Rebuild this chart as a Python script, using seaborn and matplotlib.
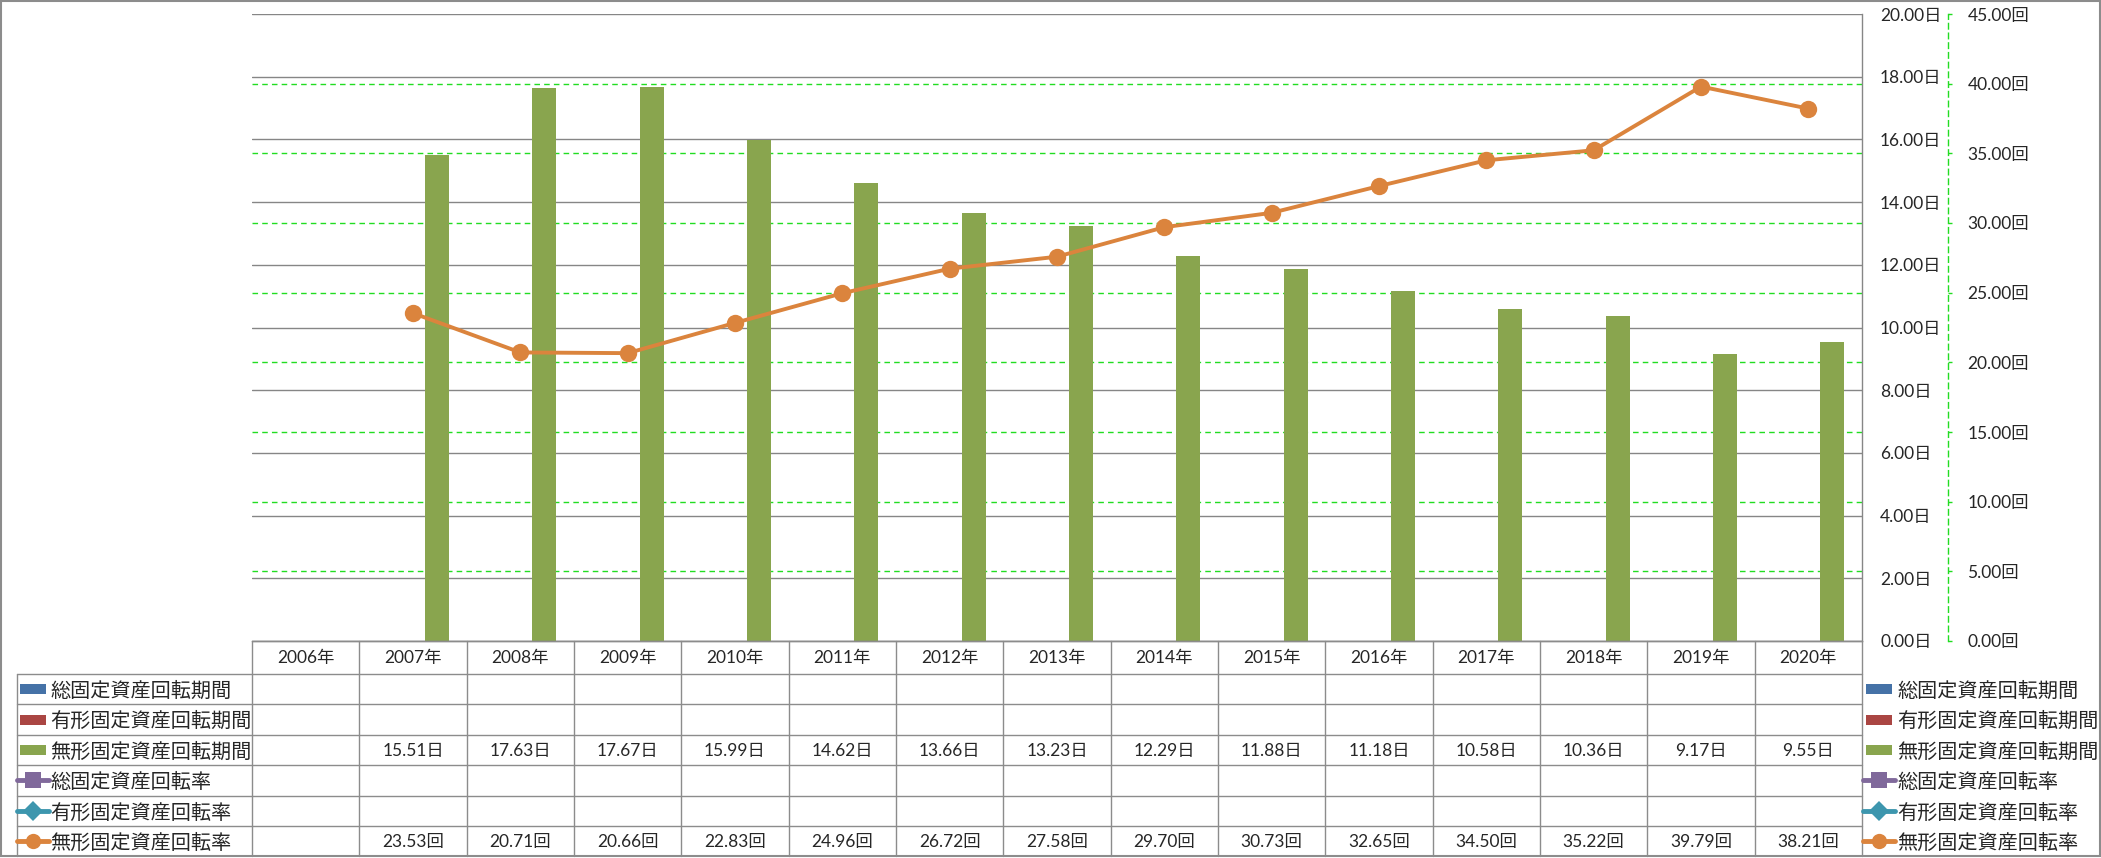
import numpy as np
import pandas as pd
import matplotlib
matplotlib.use("Agg")
import matplotlib.pyplot as plt
import matplotlib.transforms as mtransforms
import seaborn as sns
from matplotlib.lines import Line2D
from matplotlib.patches import Rectangle

# data
years = ["2006年", "2007年", "2008年", "2009年", "2010年", "2011年", "2012年", "2013年",
         "2014年", "2015年", "2016年", "2017年", "2018年", "2019年", "2020年"]
intangible_period = [np.nan, 15.51, 17.63, 17.67, 15.99, 14.62, 13.66, 13.23,
                     12.29, 11.88, 11.18, 10.58, 10.36, 9.17, 9.55]
intangible_turnover = [np.nan, 23.53, 20.71, 20.66, 22.83, 24.96, 26.72, 27.58,
                       29.70, 30.73, 32.65, 34.50, 35.22, 39.79, 38.21]
series_names = ["総固定資産回転期間", "有形固定資産回転期間", "無形固定資産回転期間",
                "総固定資産回転率", "有形固定資産回転率", "無形固定資産回転率"]
series_colors = ["#4572A7", "#AA4643", "#89A54E", "#80699B", "#3D96AE", "#DB843D"]
series_markers = [None, None, None, "s", "D", "o"]

sns.set_style("white")
plt.rcParams["font.family"] = ["Lato", "Noto Sans CJK JP", "DejaVu Sans"]

W, H = 2101, 858
fig = plt.figure(figsize=(W / 100, H / 100), dpi=100)

# plot area in pixels
px_l, px_r, px_t, px_b = 252, 1862, 14, 641
ax = fig.add_axes([px_l / W, 1 - px_b / H, (px_r - px_l) / W, (px_b - px_t) / H])

# long table for the three period series (only the intangible one has values)
rows = []
for k in range(3):
    for i, y in enumerate(years):
        v = intangible_period[i] if k == 2 else 0.0
        rows.append({"year": y, "series": series_names[k], "value": 0.0 if np.isnan(v) else v})
bars = pd.DataFrame(rows)

sns.barplot(data=bars, x="year", y="value", hue="series", hue_order=series_names[:3],
            palette=series_colors[:3], width=0.67, gap=0, linewidth=0, saturation=1,
            legend=False, ax=ax)
ax.set_xlim(-0.5, len(years) - 0.5)
ax.set_ylim(0, 20)
ax.set_xticks([])
ax.set_xlabel("")
ax.set_ylabel("")
ax.yaxis.grid(True, color="#868686", linewidth=1.0)
ax.set_axisbelow(True)
for s in ["left", "top"]:
    ax.spines[s].set_visible(False)
ax.spines["right"].set_color("#868686")
ax.spines["bottom"].set_color("#868686")
ax.spines["right"].set_linewidth(1.0)
ax.spines["bottom"].set_linewidth(1.0)

# secondary axis: turnover
ax2 = ax.twinx()
ax2.spines["right"].set_position(("axes", (1948 - px_l) / (px_r - px_l)))
line_df = pd.DataFrame({"pos": np.arange(len(years)), "value": intangible_turnover})
sns.lineplot(data=line_df, x="pos", y="value", ax=ax2, color=series_colors[5],
             linewidth=2.8, marker="o", markersize=12.5, markeredgewidth=0)
ax2.set_xlim(-0.5, len(years) - 0.5)
ax2.set_ylim(0, 45)
ax2.set_yticks(np.arange(0, 46, 5))
ax2.set_yticklabels([f"{v:.2f}回" for v in np.arange(0, 46, 5)])
ax2.set_ylabel("")
ax2.set_xlabel("")
for s in ["left", "top", "bottom"]:
    ax2.spines[s].set_visible(False)
ax2.spines["right"].set_color("#22DD22")
ax2.spines["right"].set_linestyle((0, (4, 3)))
ax2.spines["right"].set_linewidth(1.0)
ax2.tick_params(axis="y", direction="out", length=3, width=1, color="#22DD22",
                pad=11, labelsize=12.5)

# primary labels on the right (after twinx, which moves them left)
ax.yaxis.tick_right()
ax.set_yticks(np.arange(0, 21, 2))
ax.set_yticklabels([f"{v:.2f}日" for v in np.arange(0, 21, 2)])
ax.tick_params(axis="y", length=0, pad=13, labelsize=12.5)

# secondary gridlines drawn behind the bars
blend = mtransforms.blended_transform_factory(ax.transAxes, ax2.transData)
for v in np.arange(5, 41, 5):
    ax.add_line(Line2D([0, 1], [v, v], transform=blend, color="#22DD22",
                       linewidth=1.0, linestyle=(0, (4, 3)), zorder=0.6))

# overlay in pixel coordinates for the data table and legend
ov = fig.add_axes([0, 0, 1, 1], facecolor="none")
ov.set_xlim(0, W)
ov.set_ylim(H, 0)
ov.axis("off")

grid_c = "#8C8C8C"
ncol = len(years)
col_w = (px_r - px_l) / ncol
xs = [px_l + i * col_w for i in range(ncol + 1)]
row_top = 674
row_h = 30.4
ys = [row_top + k * row_h for k in range(7)]

# header row
ov.plot([px_l, px_r], [px_b, px_b], color=grid_c, lw=1.0)
for i, y in enumerate(years):
    ov.text(xs[i] + col_w / 2, (px_b + row_top) / 2 + 1, y, ha="center", va="center", fontsize=12.5)
# horizontal lines
for yy in ys[:-1]:
    ov.plot([17, px_r], [yy, yy], color=grid_c, lw=1.0)
# vertical lines
for x in xs:
    ov.plot([x, x], [px_b, ys[-1]], color=grid_c, lw=1.0)
ov.plot([17, 17], [row_top, ys[-1]], color=grid_c, lw=1.0)

# values in table
for i in range(ncol):
    if not np.isnan(intangible_period[i]):
        ov.text(xs[i] + col_w / 2, ys[2] + row_h / 2 + 1, f"{intangible_period[i]:.2f}日",
                ha="center", va="center", fontsize=12.5)
    if not np.isnan(intangible_turnover[i]):
        ov.text(xs[i] + col_w / 2, ys[5] + row_h / 2 + 1, f"{intangible_turnover[i]:.2f}回",
                ha="center", va="center", fontsize=12.5)


def legend_key(x0, yc, k):
    if series_markers[k] is None:
        ov.add_patch(Rectangle((x0 + 3, yc - 5), 26, 10, color=series_colors[k], lw=0))
    else:
        ov.plot([x0, x0 + 32], [yc, yc], color=series_colors[k], lw=3.5, solid_capstyle="round")
        ov.plot([x0 + 16], [yc], marker=series_markers[k], color=series_colors[k],
                markersize=11 if series_markers[k] != "D" else 10, markeredgewidth=0)


for k, name in enumerate(series_names):
    yc = ys[k] + row_h / 2
    legend_key(17, yc, k)
    ov.text(50, yc + 1, name, ha="left", va="center", fontsize=14.5)
    legend_key(1863, yc, k)
    ov.text(1897, yc + 1, name, ha="left", va="center", fontsize=14.5)

# outer border
ov.add_patch(Rectangle((1, 1), W - 2.5, H - 3, fill=False, edgecolor="#8C8C8C", lw=1.5))

fig.savefig("out.png", dpi=100)
